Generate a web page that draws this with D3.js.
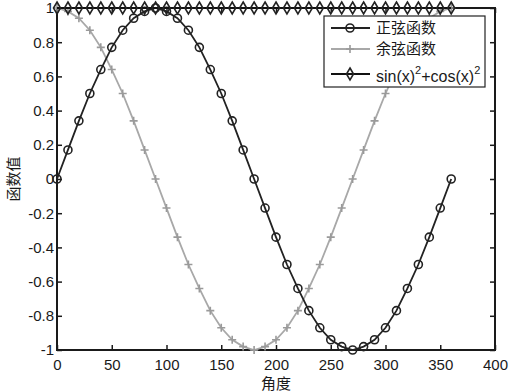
<!DOCTYPE html>
<html lang="en">
<head>
<meta charset="UTF-8">
<title>正弦 余弦</title>
<script src="https://d3js.org/d3.v7.min.js"></script>
<style>
  body { margin: 0; background: #fff; overflow: hidden; }
  svg { display: block; font-family: "Liberation Sans", Arial, sans-serif; }
  .tick text { font-size: 15px; fill: #1a1a1a; }
  .cjk { font-family: "Noto Sans CJK SC", sans-serif; }
</style>
</head>
<body>
<div id="chart"></div>
<script>
// angles 0..360 step 10
const angles = [0,10,20,30,40,50,60,70,80,90,100,110,120,130,140,150,160,170,180,
  190,200,210,220,230,240,250,260,270,280,290,300,310,320,330,340,350,360];
const sinValues = [0,0.17,0.34,0.5,0.64,0.77,0.87,0.94,0.98,1,0.98,0.94,0.87,0.77,0.64,0.5,0.34,0.17,0,
  -0.17,-0.34,-0.5,-0.64,-0.77,-0.87,-0.94,-0.98,-1,-0.98,-0.94,-0.87,-0.77,-0.64,-0.5,-0.34,-0.17,0];
const cosValues = [1,0.98,0.94,0.87,0.77,0.64,0.5,0.34,0.17,0,-0.17,-0.34,-0.5,-0.64,-0.77,-0.87,-0.94,-0.98,-1,
  -0.98,-0.94,-0.87,-0.77,-0.64,-0.5,-0.34,-0.17,0,0.17,0.34,0.5,0.64,0.77,0.87,0.94,0.98,1];
const sumValues = [1,1,1,1,1,1,1,1,1,1,1,1,1,1,1,1,1,1,1,1,1,1,1,1,1,1,1,1,1,1,1,1,1,1,1,1,1];
const xTicks = [0,50,100,150,200,250,300,350,400];
const yTicks = [-1,-0.8,-0.6,-0.4,-0.2,0,0.2,0.4,0.6,0.8,1];
const legendNames = ["正弦函数", "余弦函数"];

const width = 511, height = 392;
const margin = { top: 8, right: 16, bottom: 42, left: 57 };

const svg = d3.select("#chart").append("svg")
    .attr("width", width)
    .attr("height", height);

const x = d3.scaleLinear().domain([0, 400]).range([margin.left, width - margin.right]);
const y = d3.scaleLinear().domain([-1, 1]).range([height - margin.bottom, margin.top]);

// axes (MATLAB style, ticks inward)
const fmt = d => d3.format("")(d).replace("−", "-");
svg.append("g")
    .attr("transform", `translate(0,${y(-1)})`)
    .call(d3.axisBottom(x).tickValues(xTicks).tickSize(-5).tickPadding(9).tickFormat(fmt))
    .call(g => g.select(".domain").remove());
svg.append("g")
    .attr("transform", `translate(${x(0)},0)`)
    .call(d3.axisLeft(y).tickValues(yTicks).tickSize(-5).tickPadding(3).tickFormat(fmt))
    .call(g => g.select(".domain").remove());
svg.append("g")
    .attr("transform", `translate(${x(400)},0)`)
    .call(d3.axisRight(y).tickValues(yTicks).tickSize(-5).tickFormat(""))
    .call(g => g.select(".domain").remove());
svg.append("g")
    .attr("transform", `translate(0,${y(1)})`)
    .call(d3.axisTop(x).tickValues(xTicks).tickSize(-5).tickFormat(""))
    .call(g => g.select(".domain").remove());
svg.selectAll(".tick line").attr("stroke", "#1a1a1a").attr("stroke-width", 1.5);

svg.append("rect")
    .attr("x", x(0)).attr("y", y(1))
    .attr("width", x(400) - x(0)).attr("height", y(-1) - y(1))
    .attr("fill", "none").attr("stroke", "#1a1a1a").attr("stroke-width", 2);

// axis labels
svg.append("text").attr("class", "cjk")
    .attr("x", (x(0) + x(400)) / 2).attr("y", height - 3)
    .attr("text-anchor", "middle").style("font-size", "15px").attr("fill", "#1a1a1a")
    .text("角度");
svg.append("text").attr("class", "cjk")
    .attr("transform", `translate(19,${y(0)}) rotate(-90)`)
    .attr("text-anchor", "middle").style("font-size", "15px").attr("fill", "#1a1a1a")
    .text("函数值");

const line = d3.line().x(d => x(d[0])).y(d => y(d[1]));
const plot = svg.append("g");

const cosData = angles.map((a, i) => [a, cosValues[i]]);
const sinData = angles.map((a, i) => [a, sinValues[i]]);
const sumData = angles.map((a, i) => [a, sumValues[i]]);

// marker drawers
function plus(g, cx, cy, s, color) {
  g.append("path")
    .attr("d", `M${cx - s},${cy}H${cx + s}M${cx},${cy - s}V${cy + s}`)
    .attr("stroke", color).attr("stroke-width", 1.6).attr("fill", "none");
}
function circle(g, cx, cy, r, color) {
  g.append("circle").attr("cx", cx).attr("cy", cy).attr("r", r)
    .attr("fill", "none").attr("stroke", color).attr("stroke-width", 1.6);
}
function diamond(g, cx, cy, w, h, color) {
  g.append("path")
    .attr("d", `M${cx},${cy - h}L${cx + w},${cy}L${cx},${cy + h}L${cx - w},${cy}Z`)
    .attr("fill", "none").attr("stroke", color).attr("stroke-width", 1.6);
}

// cosine
plot.append("path").datum(cosData).attr("d", line)
    .attr("fill", "none").attr("stroke", "#a8a8a8").attr("stroke-width", 1.8);
cosData.forEach(d => plus(plot, x(d[0]), y(d[1]), 4, "#9a9a9a"));

// sine
plot.append("path").datum(sinData).attr("d", line)
    .attr("fill", "none").attr("stroke", "#222").attr("stroke-width", 1.8);
sinData.forEach(d => circle(plot, x(d[0]), y(d[1]), 4, "#222"));

// sum
plot.append("path").datum(sumData).attr("d", line)
    .attr("fill", "none").attr("stroke", "#111").attr("stroke-width", 2.2);
sumData.forEach(d => diamond(plot, x(d[0]), y(d[1]), 3.5, 6, "#222"));

// legend
const lg = svg.append("g");
lg.append("rect").attr("x", 324).attr("y", 16).attr("width", 161).attr("height", 71)
    .attr("fill", "#fff").attr("stroke", "#222").attr("stroke-width", 1.2);
const rows = [
  { y: 28, color: "#222", mark: "circle" },
  { y: 49, color: "#a8a8a8", mark: "plus" },
  { y: 74, color: "#111", mark: "diamond" }
];
rows.forEach((r, i) => {
  lg.append("line").attr("x1", 331).attr("x2", 370).attr("y1", r.y).attr("y2", r.y)
    .attr("stroke", r.color).attr("stroke-width", i === 2 ? 2.2 : 1.8);
  if (r.mark === "circle") circle(lg, 350, r.y, 4, "#222");
  if (r.mark === "plus") plus(lg, 350, r.y, 4, "#9a9a9a");
  if (r.mark === "diamond") diamond(lg, 350, r.y, 3.5, 6, "#222");
});
legendNames.forEach((n, i) => {
  lg.append("text").attr("class", "cjk").attr("x", 376).attr("y", rows[i].y + 5)
    .style("font-size", "15px").attr("fill", "#1a1a1a").text(n);
});
const t3 = lg.append("text").attr("x", 376).attr("y", rows[2].y + 8)
    .style("font-size", "16px").attr("fill", "#1a1a1a");
t3.append("tspan").text("sin(x)");
t3.append("tspan").attr("dy", -8).style("font-size", "11px").text("2");
t3.append("tspan").attr("dy", 8).text("+cos(x)");
t3.append("tspan").attr("dy", -8).style("font-size", "11px").text("2");
</script>
</body>
</html>
